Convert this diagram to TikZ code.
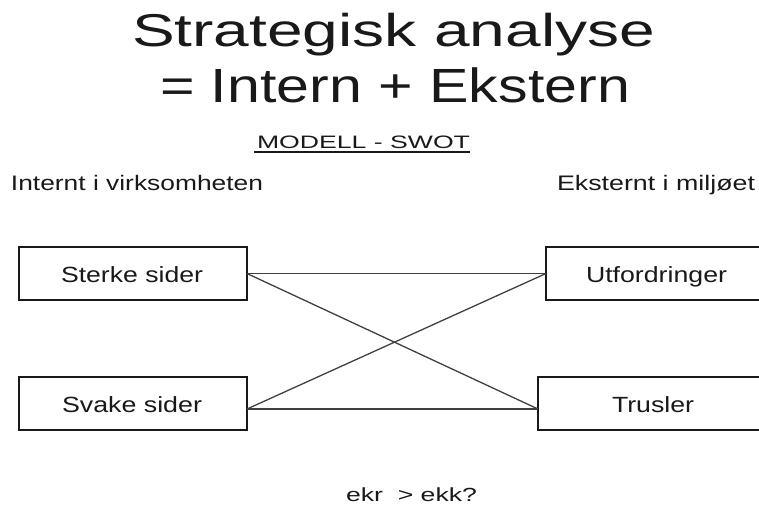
\documentclass[tikz,border=0pt]{standalone}
\usepackage{fontspec}
\setmainfont{Liberation Sans}
\usepackage{graphicx}
% text set at a given size and stretched to a given width
\newcommand\stretchtxt[3]{\resizebox{#1pt}{\height}{\fontsize{#2pt}{#2pt}\selectfont #3}}
\tikzset{
  lbl/.style={inner sep=0pt, outer sep=0pt, anchor=base west, text=black!90},
  swotbox/.style={draw=black!90, line width=1.8pt, inner sep=0pt, outer sep=0pt},
  link/.style={draw=black!75, line width=1.3pt},
}
\begin{document}
\begin{tikzpicture}[x=1pt,y=-1pt]
  \useasboundingbox (0,0) rectangle (759,504);
  \clip (0,0) rectangle (759,504);

  % heading
  \node[lbl] (t1) at (132,46) {\stretchtxt{523}{46}{Strategisk analyse}};
  \node[lbl] (t2) at (160,102) {\stretchtxt{470}{48}{= Intern + Ekstern}};
  \node[lbl] (modell) at (257,148) {\stretchtxt{213}{18}{MODELL - SWOT}};
  \draw[black!90, line width=1.8pt] ([xshift=-3pt,yshift=-4pt]modell.base west) -- ([yshift=-4pt]modell.base east);

  % column headings
  \node[lbl] (intern) at (11,190) {\stretchtxt{252}{21}{Internt i virksomheten}};
  \node[lbl] (ekstern) at (557,190) {\stretchtxt{198}{21}{Eksternt i miljøet}};

  % boxes (the right-hand ones run past the page edge)
  \path[swotbox] (19,247) rectangle (247,300) node[pos=0.5] (sterke) {};
  \path[swotbox] (19,377) rectangle (247,430) node[pos=0.5] (svake) {};
  \path[swotbox] (546,247) rectangle (768,300) node[pos=0.5] (utf) {};
  \path[swotbox] (538,377) rectangle (768,430) node[pos=0.5] (trusler) {};

  \coordinate (sterkeR) at (247,273.5);
  \coordinate (svakeR) at (247,409);
  \coordinate (utfL) at (546,273.5);
  \coordinate (truslerL) at (538,409);

  % box labels
  \node[lbl] (lsterke) at (61,282) {\stretchtxt{142}{22}{Sterke sider}};
  \node[lbl] (lsvake) at (62,412) {\stretchtxt{140}{22}{Svake sider}};
  \node[lbl] (lutf) at (586,282) {\stretchtxt{141}{22}{Utfordringer}};
  \node[lbl] (ltrusler) at (612,412) {\stretchtxt{82}{22}{Trusler}};

  % connections
  \draw[link] (sterkeR) -- (utfL);
  \draw[link] (sterkeR) -- (truslerL);
  \draw[link] (svakeR) -- (utfL);
  \draw[link] (svakeR) -- (truslerL);

  % question
  \node[lbl] (q) at (346,501) {\stretchtxt{131}{19}{ekr\ \ > ekk?}};
\end{tikzpicture}
\end{document}
